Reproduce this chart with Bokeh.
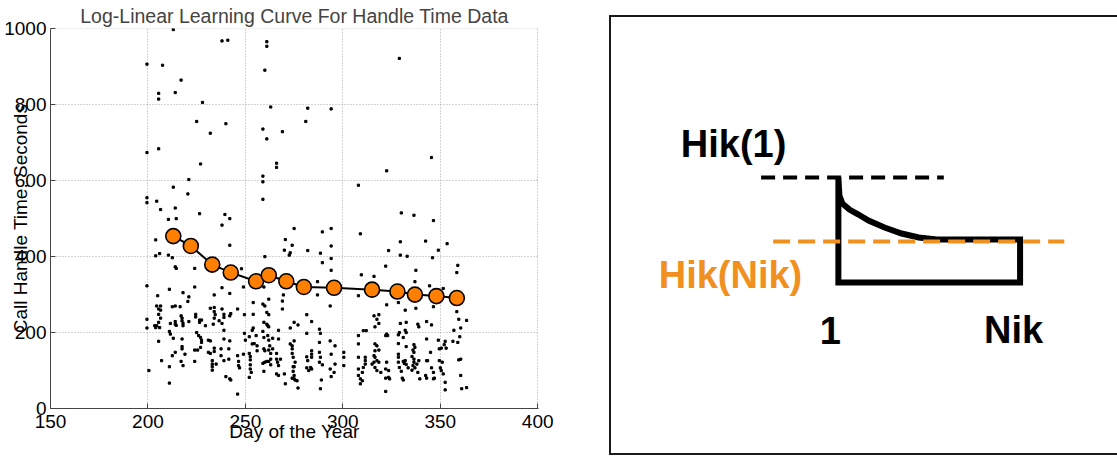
from bokeh.plotting import figure
from bokeh.layouts import row
from bokeh.models import Range1d, FixedTicker
from bokeh.core.properties import value
from bokeh.embed import file_html
from bokeh.resources import INLINE

FONT = "Liberation Sans"
ORANGE = "#FF8000"
ORANGE2 = "#F0901E"

# ---------------- data: individual call handle times (day, seconds) ----------------
dots_high = [(213, 998), (238, 968), (241, 970), (261, 966), (261, 954), (199.5, 907), (207.5, 904),
             (217, 865), (205.5, 830), (205.5, 815), (214, 832), (228, 806), (260, 891), (263, 794),
             (282, 791), (225, 756), (240, 750), (232, 725), (259, 736), (269, 729), (261, 710),
             (281, 756), (199.5, 674), (205.5, 684), (329, 922), (294, 789), (345.5, 661)]

dots_mid_left = [(227, 644), (221, 603), (213, 583), (199.5, 555), (199.5, 542), (204.5, 546), (206.5, 524),
                 (220.5, 565), (214, 528), (210.5, 498), (214.5, 500), (226.5, 513), (239.5, 511), (242, 500),
                 (238, 483), (204, 444), (204, 402), (206, 408), (210.5, 404), (212.5, 397), (214, 373),
                 (214.5, 369), (224, 369), (242, 430), (248, 368), (199.5, 323), (211, 314), (224, 320),
                 (238, 318), (249, 320), (259, 612), (259, 597), (259, 551), (266, 646), (266, 635),
                 (260, 400), (275, 474), (270.5, 445), (274, 430), (270, 417), (273, 410), (272.5, 404),
                 (282, 416), (259.5, 320)]

dots_mid_right = [(322.5, 626), (308, 588), (289.5, 465), (294, 474), (294, 428), (288.5, 409), (289.5, 384),
                  (294, 395), (294, 364), (309, 460), (330, 515), (336.5, 509), (346.5, 495), (329.5, 439),
                  (342.5, 441), (353.5, 434), (323.5, 416), (329.5, 404), (333, 401), (349, 417), (346, 397),
                  (322, 375), (337.5, 364), (337, 334), (359, 377), (358.5, 358), (309.5, 352), (316, 348),
                  (287, 334), (344.5, 323), (351.5, 316)]

dots_low_1 = [(205, 297), (218, 305), (221, 294), (220.5, 282), (234, 299), (204.5, 270), (206.5, 270),
              (205.5, 262), (206.5, 259), (212.5, 268), (214, 270), (216.5, 268), (199.5, 235), (205.5, 248),
              (206.5, 238), (205.5, 227), (204.5, 218), (204, 213), (203.5, 218), (206, 213), (199.5, 212),
              (211.5, 224), (214, 229), (214, 222), (214.5, 219), (217, 244), (217.5, 238), (217.5, 231),
              (218, 224), (218, 218), (221, 229), (224.5, 248), (224.5, 241), (226.5, 233), (226.5, 227),
              (227.5, 233), (229.5, 218), (232, 264), (234, 266), (234, 255), (234.5, 247), (234, 238),
              (233.5, 222), (236.5, 231), (238, 262), (238, 224), (211, 203), (211.5, 196), (213, 185),
              (217.5, 183), (217.5, 163), (217.5, 157), (205.5, 177), (225, 200), (226, 192), (227, 187),
              (227.5, 180), (227.5, 174), (231, 180), (232, 178), (224, 154), (225.5, 154), (227, 161),
              (219, 143), (214, 148), (212.5, 139), (231, 148), (232, 145), (234, 159), (234, 150),
              (233, 126), (233, 117), (233, 110), (235, 117), (233, 101), (237.5, 157), (237.5, 139),
              (207, 126), (217, 124), (218, 113), (224, 124), (211, 110), (200.5, 100), (211, 67)]

dots_low_2 = [(242, 303), (246, 262), (249.5, 247), (254, 279), (254, 248), (259, 275), (260, 270), (262, 288),
              (261, 253), (262, 247), (259.5, 227), (261, 222), (261.5, 218), (262, 215), (269, 283), (269, 262),
              (269.5, 299), (239, 248), (239, 240), (242.5, 250), (242, 244), (239, 206), (239, 183),
              (239, 126), (242, 178), (241.5, 157), (241.5, 130), (240, 84), (242, 78), (242.5, 75), (246, 38),
              (246, 139), (246.5, 124), (246.5, 113), (247, 107), (249.5, 198), (250, 180), (249, 143),
              (252, 189), (252, 145), (252.5, 137), (252.5, 128), (252.5, 115), (252.5, 104), (253, 95),
              (252, 82), (254, 212), (253.5, 206), (253.5, 170), (254.5, 171), (255.5, 192), (256, 165),
              (256, 152), (259, 203), (259.5, 187), (259.5, 157), (260, 152), (260, 122), (261, 124),
              (259, 119), (259.5, 98), (261.5, 192), (262, 180), (262.5, 165), (262, 154), (263, 145),
              (263, 130), (262, 124), (263, 115), (264, 185), (264, 157), (266, 145), (266, 130),
              (266.5, 122), (267, 113), (266, 91), (267, 87), (267, 206), (267, 183), (268, 130), (270, 91),
              (270.5, 65), (273, 212), (273, 170), (274, 165), (274, 157), (274, 145), (274.5, 135),
              (274.5, 110), (274.5, 98), (275, 87), (275, 78), (274, 80), (275.5, 75), (276.5, 73), (277, 54),
              (275, 227), (277, 220), (275, 178), (275.5, 122), (275, 110), (281.5, 247), (281.5, 198),
              (281.5, 136), (282, 126), (281.5, 107)]

dots_low_3 = [(287, 299), (293.5, 270), (284, 229), (288, 209), (288.5, 198), (288, 174), (284, 152), (284, 143),
              (284, 135), (283.5, 108), (284, 104), (282.5, 100), (288, 148), (288, 122), (288.5, 135),
              (289.5, 115), (289, 75), (288.5, 52), (293.5, 178), (296, 165), (294, 143), (293.5, 104),
              (295.5, 95), (294, 84), (296, 117), (300.5, 148), (300.5, 135), (300.5, 113), (308, 297),
              (308, 192), (308, 170), (308, 135), (308, 104), (308, 87), (309, 78), (310, 73), (309, 65),
              (310, 95), (310.5, 205), (312, 205), (316, 244), (318.5, 247), (317.5, 235), (318.5, 224),
              (316.5, 215), (322.5, 273), (322, 192), (322.5, 196), (323, 192), (316.5, 170), (317.5, 165),
              (318.5, 154), (316.5, 152), (316, 139), (316.5, 135), (317.5, 126), (318.5, 122), (316, 122),
              (315, 117), (316.5, 108), (317.5, 100), (319.5, 95), (311.5, 135), (311.5, 126), (311.5, 117),
              (310.5, 108), (322.5, 122), (322, 104), (323.5, 82), (322, 80), (322, 45), (323.5, 100), (324, 78)]

dots_low_4 = [(328.5, 279), (332, 259), (337.5, 264), (346.5, 268), (329.5, 224), (332.5, 227), (338.5, 222),
              (339, 215), (343, 229), (345.5, 220), (329, 200), (328.5, 194), (332, 206), (332.5, 200),
              (331, 187), (328.5, 171), (332.5, 163), (336.5, 168), (337, 161), (336, 154), (336.5, 148),
              (343, 183), (345, 148), (349, 180), (352.5, 177), (352, 168), (353, 159), (349.5, 157),
              (350.5, 159), (356.5, 177), (357, 206), (359, 174), (360, 189), (328.5, 143), (328.5, 135),
              (328.5, 122), (329, 108), (330, 98), (330.5, 80), (331, 75), (331, 124), (331.5, 119),
              (332.5, 116), (332, 126), (333.5, 107), (335.5, 137), (336.5, 130), (336.5, 122), (336, 113),
              (335.5, 101), (337, 107), (338, 117), (338.5, 95), (339, 126), (339.5, 78), (343, 126),
              (343.5, 126), (342.5, 87), (343, 80), (345.5, 107), (346.5, 95), (346.5, 78), (347, 80),
              (349.5, 126), (351, 122), (350, 107), (350.5, 100), (351.5, 91), (352.5, 69), (352.5, 49),
              (359.5, 128), (360.5, 130), (360.5, 87), (361, 52), (363.5, 55), (358.5, 255), (359.5, 235),
              (363.5, 232), (360.5, 212)]

# ---------------- data: fitted log-linear learning curve ----------------
curve_day = [213, 222, 233, 242.5, 255.5, 262, 271, 280, 295.5, 315, 328, 337, 348, 358.5]
curve_sec = [454, 428, 379, 358, 335, 351, 335, 320, 318, 313, 308, 300, 296, 291]

x_ticks = [150, 200, 250, 300, 350, 400]
y_ticks = [0, 200, 400, 600, 800, 1000]

# ---------------- data: schematic (percent of the panel frame) ----------------
hik1_level_x = [29.45, 65.42]
hik1_level_y = [63.64, 63.64]
hiknik_level_x = [31.82, 89.13]
hiknik_level_y = [46.01, 46.01]
outline_x = [44.66, 44.86, 45.45, 46.84, 48.62, 50.59, 53.75, 57.11, 60.47, 64.03, 80.43, 80.43, 44.66, 44.66]
outline_y = [63.64, 58.68, 56.47, 54.82, 53.44, 51.79, 49.86, 48.21, 47.11, 46.56, 46.56, 34.71, 34.71, 63.64]
label_text = ["Hik(1)", "Hik(Nik)", "1", "Nik"]
label_x = [13.64, 9.29, 43.08, 73.32]
label_y = [72.73, 36.78, 21.49, 21.49]
label_align = ["left", "left", "center", "left"]
label_color = ["black", ORANGE2, "black", "black"]

all_dots = dots_high + dots_mid_left + dots_mid_right + dots_low_1 + dots_low_2 + dots_low_3 + dots_low_4
dot_day = [d for d, s in all_dots]
dot_sec = [s for d, s in all_dots]

# ---------------- left: scatter + learning curve ----------------
p = figure(width=609, height=457, x_range=Range1d(150, 400.4), y_range=Range1d(0, 1000.8),
           output_backend="svg", toolbar_location=None,
           title="Log-Linear Learning Curve For Handle Time Data",
           min_border_left=50, min_border_right=71, min_border_top=28, min_border_bottom=49)
p.title.align = "center"
p.title.vertical_align = "top"
p.title.text_font = FONT
p.title.text_font_style = "normal"
p.title.text_font_size = "19.5px"
p.title.standoff = 0
p.outline_line_color = None

p.scatter(dot_day, dot_sec, size=2.2, marker="square", color="black")
p.line(curve_day, curve_sec, line_color="black", line_width=2)
p.scatter(curve_day, curve_sec, size=15, fill_color=ORANGE, line_color="black", line_width=1.6)

p.xaxis.ticker = FixedTicker(ticks=x_ticks)
p.yaxis.ticker = FixedTicker(ticks=y_ticks)
for ax in (p.xaxis[0], p.yaxis[0]):
    ax.major_tick_in = 5
    ax.major_tick_out = 0
    ax.minor_tick_line_color = None
    ax.axis_line_color = "#444444"
    ax.major_tick_line_color = "#444444"
    ax.major_label_text_font = FONT
    ax.major_label_text_font_size = "19px"
    ax.major_label_text_color = "black"
    ax.axis_label_text_font = FONT
    ax.axis_label_text_font_size = "19px"
    ax.axis_label_text_font_style = "normal"
    ax.axis_label_text_color = "black"
p.xaxis.axis_label = "Day of the Year"
p.yaxis.axis_label = "Call Handle Time, Seconds"
p.xaxis.major_label_standoff = 6
p.yaxis.major_label_standoff = 4
p.xaxis.axis_label_standoff = -10
p.yaxis.axis_label_standoff = -30
p.grid.grid_line_color = "#a8a8a8"
p.grid.grid_line_dash = "1 2"
p.grid.grid_line_width = 1

# ---------------- right: schematic in a framed box ----------------
q = figure(width=508, height=440, x_range=Range1d(0, 100), y_range=Range1d(0, 100),
           output_backend="svg", toolbar_location=None, x_axis_type=None, y_axis_type=None,
           min_border_left=0, min_border_right=0, min_border_top=28, min_border_bottom=45)
q.grid.visible = False
q.outline_line_color = None
q.margin = (15, 0, 0, 0)
q.styles = {"border-top": "2px solid #1a1a1a", "border-left": "2px solid #1a1a1a",
            "border-bottom": "2px solid #1a1a1a"}

q.line(hik1_level_x, hik1_level_y, line_color="black", line_width=4, line_dash="14 8")
q.line(outline_x, outline_y, line_color="black", line_width=6, line_join="miter")
q.line(hiknik_level_x, hiknik_level_y, line_color=ORANGE2, line_width=4, line_dash="17 8")
q.text(label_x, label_y, text=label_text, text_align=label_align, text_color=label_color,
       text_baseline="middle", text_font=value(FONT), text_font_style="bold", text_font_size="38px")

layout = row(p, q)
open("out.html", "w").write(file_html(layout, INLINE))
